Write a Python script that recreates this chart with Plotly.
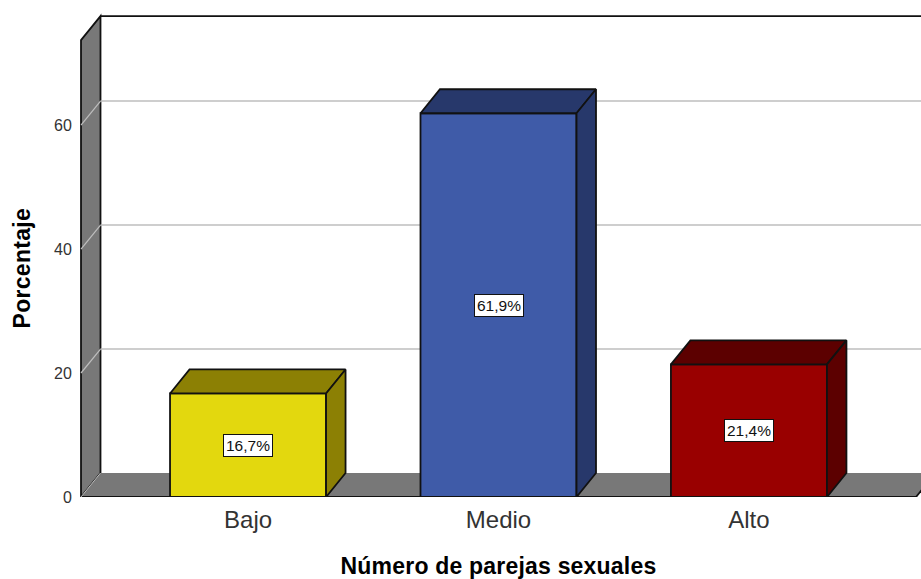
import plotly.graph_objects as go

categories = ["Bajo", "Medio", "Alto"]
values = [16.7, 61.9, 21.4]
labels = ["16,7%", "61,9%", "21,4%"]
front_colors = ["#E3D80E", "#3F5BA8", "#990000"]
shade_colors = ["#8C8004", "#27386B", "#5C0000"]
y_ticks = [0, 20, 40, 60]
grid_values = [20, 40, 60]

positions = list(range(len(categories)))
BAR_W = 0.623
DX, DY = 0.0778, 3.87
X0, X1 = -0.667, 2.667   # front edge of the floor
Y_TOP = 73.7
XMIN, XMAX = -0.687, 2.687
YMAX = 78.55
EDGE = "#111111"
LW = 1.8

fig = go.Figure()
fig.add_trace(go.Bar(x=positions, y=values, width=BAR_W, marker=dict(color=front_colors, line=dict(color=EDGE, width=LW)), hoverinfo="skip", showlegend=False))

for p, v, shade in zip(positions, values, shade_colors):
    l, r = p - BAR_W / 2, p + BAR_W / 2
    fig.add_trace(go.Scatter(x=[l, r, r + DX, l + DX, l], y=[v, v, v + DY, v + DY, v], mode="lines", fill="toself", fillcolor=shade, line=dict(color=EDGE, width=LW), hoverinfo="skip", showlegend=False))
    fig.add_trace(go.Scatter(x=[r, r + DX, r + DX, r, r], y=[0, DY, v + DY, v, 0], mode="lines", fill="toself", fillcolor=shade, line=dict(color=EDGE, width=LW), hoverinfo="skip", showlegend=False))

shapes = []
GRAY = "#787878"
shapes.append(dict(type="path", path=f"M {X0} 0 L {X0} {Y_TOP} L {X0+DX} {Y_TOP+DY} L {X0+DX} {DY} Z", fillcolor=GRAY, line=dict(color=EDGE, width=LW), layer="below"))
shapes.append(dict(type="path", path=f"M {X0} 0 L {X0+DX} {DY} L {X1+DX} {DY} L {X1} 0 Z", fillcolor=GRAY, line=dict(width=0), layer="below"))
for a, b in [((X0, 0), (X1, 0)), ((X1, 0), (X1 + DX, DY)), ((X0 + DX, Y_TOP + DY), (XMAX + 1, Y_TOP + DY))]:
    shapes.append(dict(type="line", x0=a[0], y0=a[1], x1=b[0], y1=b[1], line=dict(color=EDGE, width=LW), layer="below"))
for g in grid_values:
    shapes.append(dict(type="line", x0=X0 + DX, y0=g + DY, x1=XMAX + 1, y1=g + DY, line=dict(color="#BEBEBE", width=1.3), layer="below"))
    shapes.append(dict(type="line", x0=X0, y0=g, x1=X0 + DX, y1=g + DY, line=dict(color="#BEBEBE", width=1.2), layer="below"))
shapes.append(dict(type="line", x0=X0, y0=0, x1=X0 + DX, y1=DY, line=dict(color="#BEBEBE", width=1), layer="below"))

annotations = [dict(x=p, y=v / 2, text=t, showarrow=False, font=dict(family="Liberation Sans", size=15.5, color="#111111"), bgcolor="#FFFFFF", bordercolor="#111111", borderwidth=1, borderpad=2) for p, v, t in zip(positions, values, labels)]
annotations.append(dict(xref="paper", x=-0.0642, xanchor="center", y=36.9, text="<b>Porcentaje</b>", textangle=-90, showarrow=False, font=dict(family="Liberation Sans", size=23, color="#000000")))

fig.update_layout(
    width=921, height=579,
    margin=dict(l=76, r=0, t=10, b=82),
    paper_bgcolor="#FFFFFF", plot_bgcolor="#FFFFFF",
    showlegend=False, shapes=shapes, annotations=annotations,
    font=dict(family="Liberation Sans", color="#000000"),
    xaxis=dict(range=[XMIN, XMAX], tickmode="array", tickvals=positions, ticktext=categories, showgrid=False, zeroline=False, showline=False, ticks="outside", ticklen=1, tickcolor="rgba(0,0,0,0)", tickfont=dict(size=24, color="#333333"),
               title=dict(text="<b>Número de parejas sexuales</b>", font=dict(size=23), standoff=26)),
    yaxis=dict(range=[0, YMAX], tickmode="array", tickvals=y_ticks, showgrid=False, zeroline=False, showline=False, ticks="outside", ticklen=0, tickcolor="rgba(0,0,0,0)", tickfont=dict(size=16, color="#333333")),
)
post = """
document.body.style.margin='0';document.body.style.overflow='hidden';
document.querySelectorAll('svg text').forEach(function(t){
  var s=t.textContent;
  if(s==='Número de parejas sexuales'){t.style.letterSpacing='0.2px';}
  if(s==='Porcentaje'){t.style.letterSpacing='0.3px';}
});
"""
fig.write_html("out.html", post_script=post, config={"displayModeBar": False})
